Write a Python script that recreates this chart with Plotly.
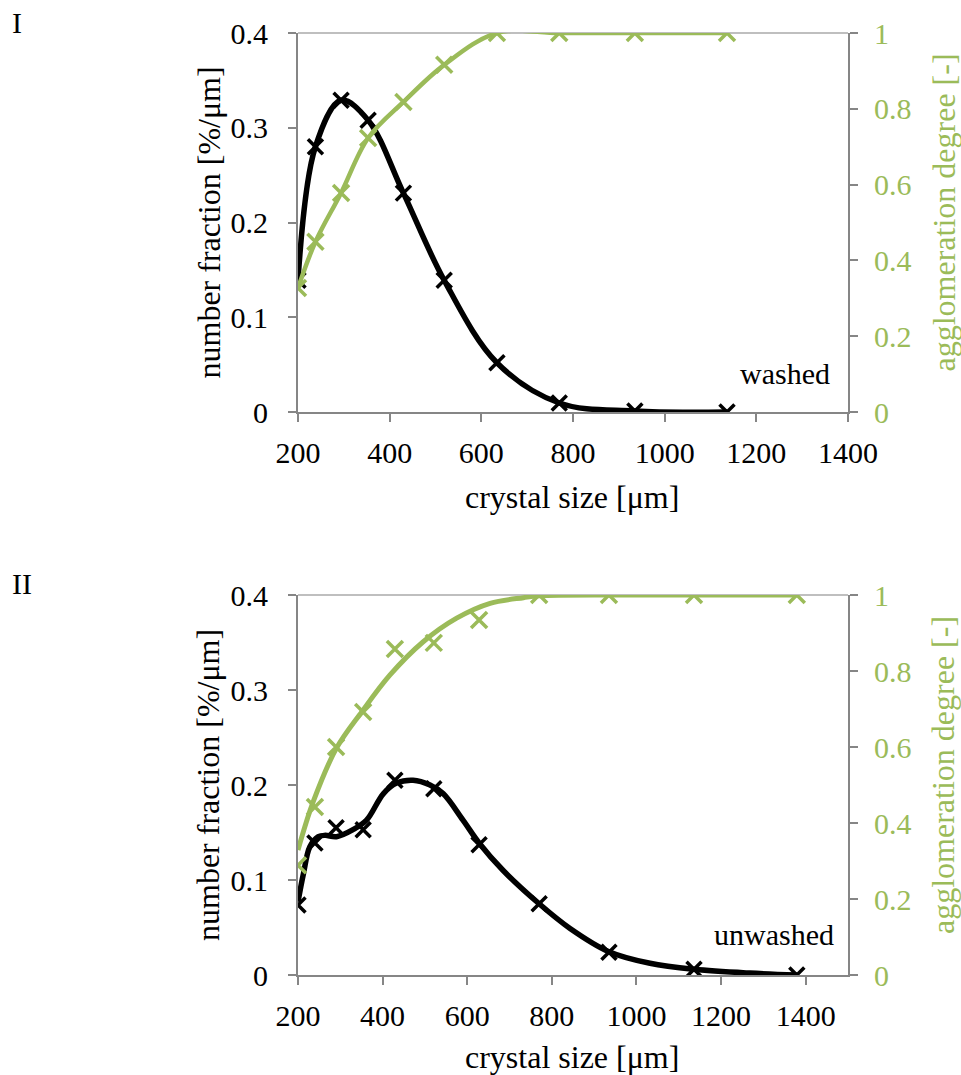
import plotly.graph_objects as go

# ---------------- data ----------------
# Panel I (washed)
x_washed = [200, 238, 294, 353, 430, 519, 634, 770, 935, 1136]
nf_washed = [0.139, 0.280, 0.329, 0.308, 0.231, 0.139, 0.052, 0.0095, 0.001, 0.0]
ag_washed = [0.327, 0.449, 0.578, 0.723, 0.818, 0.916, 1.0, 1.0, 1.0, 1.0]

# Panel II (unwashed)
x_unwashed = [200, 240, 290, 354, 429, 521, 628, 770, 935, 1136, 1379]
nf_unwashed = [0.0737, 0.139, 0.155, 0.153, 0.205, 0.196, 0.137, 0.075, 0.024, 0.006, 0.0]
ag_unwashed = [0.289, 0.442, 0.60, 0.692, 0.858, 0.874, 0.934, 1.0, 1.0, 1.0, 1.0]
# fitted number-fraction curve
fit_nf_x = [200, 213, 228, 248, 264, 291, 330, 362, 402, 433, 472, 512, 543, 590, 628,
            685, 770, 843, 935, 1032, 1136, 1268, 1379]
fit_nf_y = [0.077, 0.107, 0.135, 0.1456, 0.147, 0.1456, 0.153, 0.163, 0.191, 0.202, 0.205,
            0.200, 0.191, 0.163, 0.139, 0.110, 0.075, 0.049, 0.0245, 0.0123, 0.006, 0.002, 0.0]
# fitted agglomeration curve
fit_ag_x = [200, 236, 291, 351, 417, 496, 575, 654, 733, 770, 1000, 1380]
fit_ag_y = [0.329, 0.456, 0.597, 0.693, 0.789, 0.877, 0.939, 0.978, 0.993, 0.998, 1.0, 1.0]

x_ticks = [200, 400, 600, 800, 1000, 1200, 1400]

# ---------------- style ----------------
FONT = "Liberation Serif"
FS = 30
FS_TITLE = 32
GREEN = "#9BBB59"
AXC = "#868686"
W, H = 961, 1075

fig = go.Figure()

BLACK_MARK = dict(symbol="x-thin", size=15, line=dict(color="black", width=3.5))
GREEN_MARK = dict(symbol="x-thin", size=16, line=dict(color=GREEN, width=3.5))

def line_trace(x, y, xa, ya, color, width):
    fig.add_trace(go.Scatter(
        x=x, y=y, xaxis=xa, yaxis=ya, mode="lines",
        line=dict(color=color, width=width, shape="spline", smoothing=1.0),
        showlegend=False, hoverinfo="skip"))

def marker_trace(x, y, xa, ya, marker):
    fig.add_trace(go.Scatter(
        x=x, y=y, xaxis=xa, yaxis=ya, mode="markers", marker=marker,
        showlegend=False))

# Panel I
line_trace(x_washed, ag_washed, "x", "y2", GREEN, 4.5)
marker_trace(x_washed, ag_washed, "x", "y2", GREEN_MARK)
line_trace(x_washed, nf_washed, "x", "y", "black", 5.5)
marker_trace(x_washed, nf_washed, "x", "y", BLACK_MARK)
# Panel II
line_trace(fit_ag_x, fit_ag_y, "x2", "y4", GREEN, 5)
marker_trace(x_unwashed, ag_unwashed, "x2", "y4", GREEN_MARK)
line_trace(fit_nf_x, fit_nf_y, "x2", "y3", "black", 5.5)
marker_trace(x_unwashed, nf_unwashed, "x2", "y3", BLACK_MARK)

xdom = [298 / W, 848 / W]
ydom_top = [1 - 412 / H, 1 - 33 / H]
ydom_bot = [1 - 975 / H, 1 - 595 / H]

tickfont = dict(family=FONT, size=FS, color="black")
gtickfont = dict(family=FONT, size=FS, color=GREEN)

COMMON = dict(showgrid=False, zeroline=False, showline=True, linecolor=AXC,
              linewidth=2, ticks="outside", ticklen=8, tickwidth=2, tickcolor=AXC,
              automargin=False)

def xaxis(anchor, rng):
    return dict(domain=xdom, anchor=anchor, range=rng, tickvals=x_ticks,
                tickfont=tickfont, ticklabelstandoff=5, **COMMON)

def yleft(anchor, dom):
    return dict(domain=dom, anchor=anchor, range=[0, 0.4], tickvals=[0, 0.1, 0.2, 0.3, 0.4],
                tickfont=tickfont, ticklabelstandoff=14, **COMMON)

def yright(anchor, overlay, dom):
    return dict(domain=dom, anchor=anchor, overlaying=overlay, side="right",
                range=[0, 1], tickvals=[0, 0.2, 0.4, 0.6, 0.8, 1],
                tickfont=gtickfont, ticklabelstandoff=10, **COMMON)

fig.update_layout(
    template="none",
    width=W, height=H,
    margin=dict(l=0, r=0, t=0, b=0, pad=0),
    paper_bgcolor="white", plot_bgcolor="white",
    font=dict(family=FONT, size=FS, color="black"),
    showlegend=False,
    xaxis=xaxis("y", [200, 1400]),
    yaxis=yleft("x", ydom_top),
    yaxis2=yright("x", "y", ydom_top),
    xaxis2=xaxis("y3", [200, 1500]),
    yaxis3=yleft("x2", ydom_bot),
    yaxis4=yright("x2", "y3", ydom_bot),
)

# light top border lines
for yr, xr in (("y domain", "x domain"), ("y3 domain", "x2 domain")):
    fig.add_shape(type="line", xref=xr, yref=yr, x0=0, x1=1, y0=1, y1=1,
                  line=dict(color="#BFBFBF", width=2), layer="below")

def ann(text, x, y, angle=0, color="black", xanchor="center", yanchor="middle", size=FS_TITLE):
    fig.add_annotation(text=text, x=x / W, y=1 - y / H, xref="paper", yref="paper",
                       showarrow=False, textangle=angle, xanchor=xanchor, yanchor=yanchor,
                       font=dict(family=FONT, size=size, color=color))

# panel labels
ann("I", 10, 22, xanchor="left", size=FS)
ann("II", 10, 583, xanchor="left", size=FS)
# axis titles
for ytop, ybot, xt in ((33, 412, 497), (595, 975, 1057)):
    ymid = (ytop + ybot) / 2
    ann("number fraction [%/μm]", 208, ymid, angle=-90)
    ann("agglomeration degree [-]", 943, ymid - 10, angle=-90, color=GREEN)
    ann("crystal size [μm]", 572, xt)
# annotations in plots
ann("washed", 832, 373, xanchor="right", size=FS)
ann("unwashed", 836, 935, xanchor="right", size=FS)

fig.write_html("out.html")
